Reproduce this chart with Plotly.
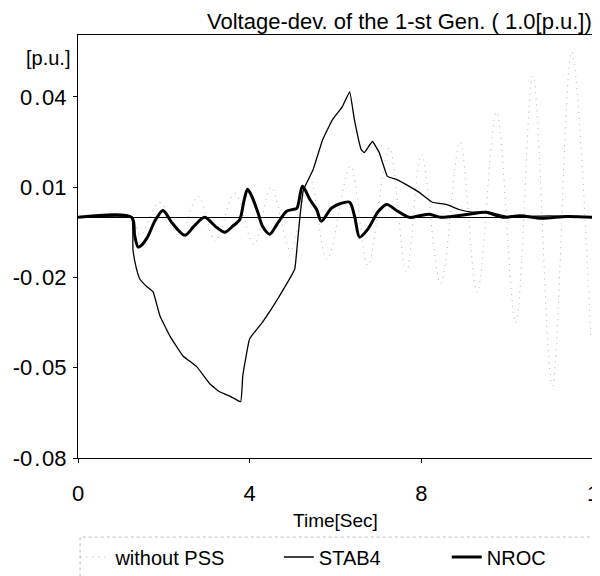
import plotly.graph_objects as go

# ---------------- data ----------------
stab4_t = [0, 1.25, 1.28, 1.36, 1.44, 1.6, 1.75, 1.91, 2.14, 2.44, 2.77, 3.07, 3.3, 3.55, 3.79,
           3.84, 4.0, 4.3, 4.7, 5.05, 5.1, 5.17, 5.25, 5.48, 5.7, 5.93, 6.16, 6.33, 6.44, 6.6,
           6.67, 6.86, 7.02, 7.21, 7.42, 7.72, 7.95, 8.26, 8.58, 8.88, 9.19, 9.58, 9.98, 10.5,
           11.0, 12.0]
stab4_v = [0, 0, -0.0106, -0.017, -0.0205, -0.023, -0.0248, -0.0328, -0.0394, -0.046, -0.0497,
           -0.0553, -0.058, -0.0595, -0.0613, -0.0526, -0.0404, -0.0348, -0.026, -0.0172,
           -0.0106, 0.0, 0.009, 0.0159, 0.0258, 0.0325, 0.0368, 0.0417, 0.0325, 0.0225,
           0.0215, 0.0252, 0.0215, 0.0136, 0.0126, 0.0103, 0.0083, 0.005, 0.0043, 0.0026,
           0.0017, 0.0017, 0.0003, 0.0003, 0.0005, 0.0]

nroc_t = [0, 1.25, 1.32, 1.4, 1.5, 1.63, 1.8, 1.98, 2.2, 2.49, 2.7, 2.95, 3.2, 3.42, 3.6, 3.77,
          3.86, 3.95, 4.05, 4.19, 4.3, 4.47, 4.65, 4.86, 5.0, 5.1, 5.23, 5.4, 5.56, 5.67, 5.9,
          6.1, 6.33, 6.45, 6.56, 6.75, 7.0, 7.19, 7.45, 7.72, 7.95, 8.19, 8.45, 8.7, 9.1, 9.5,
          9.9, 10.3, 10.8, 11.4, 12.0]
nroc_v = [0, 0, -0.006, -0.0099, -0.009, -0.0063, -0.001, 0.0023, -0.002, -0.006, -0.003, 0.0,
          -0.003, -0.005, -0.003, -0.0007, 0.005, 0.0093, 0.007, 0.0017, -0.003, -0.0056,
          -0.002, 0.002, 0.0026, 0.003, 0.0103, 0.006, 0.0026, -0.0013, 0.003, 0.0045, 0.005,
          0.0, -0.0066, -0.004, 0.002, 0.0043, 0.002, 0.0, 0.0005, 0.001, 0.0, 0.0003, 0.001,
          0.0017, 0.0, 0.0005, -0.0003, 0.0003, 0.0]

nopss_t = [0, 1.25, 1.45, 1.9, 2.35, 2.8, 3.2, 3.65, 4.1, 4.5, 4.95, 5.4, 5.8, 6.35, 6.75, 7.25,
           7.65, 8.0, 8.45, 8.9, 9.3, 9.75, 10.2, 10.6, 11.05, 11.5, 11.95]
nopss_v = [0, 0, -0.006, 0.005, -0.006, 0.007, -0.008, 0.008, -0.009, 0.010, -0.011, 0.013,
           -0.014, 0.017, -0.016, 0.023, -0.018, 0.021, -0.022, 0.025, -0.025, 0.035, -0.035,
           0.047, -0.056, 0.055, -0.04]

y_tickvals = [0.04, 0.01, -0.02, -0.05, -0.08]
y_ticktext = ["0\u200a.\u200a04", "0\u200a.\u200a01", "-0\u200a.\u200a02", "-0\u200a.\u200a05", "-0\u200a.\u200a08"]
x_tickvals = [0, 4, 8, 12]
x_ticktext = ["0", "4", "8", "1"]

FONT = "Liberation Sans, Arial, sans-serif"

fig = go.Figure()
fig.add_trace(go.Scatter(x=nopss_t, y=nopss_v, mode="lines", name="without PSS", legend="legend",
                         line=dict(color="rgba(120,120,120,0.6)", width=1, dash="1px,5px",
                                   shape="spline", smoothing=1.0)))
fig.add_trace(go.Scatter(x=stab4_t, y=stab4_v, mode="lines", name="STAB4", legend="legend2",
                         line=dict(color="black", width=1.3, shape="spline", smoothing=0.3)))
fig.add_trace(go.Scatter(x=nroc_t, y=nroc_v, mode="lines", name="NROC", legend="legend3",
                         line=dict(color="black", width=3, shape="spline", smoothing=0.8)))

leg_common = dict(orientation="h", y=-0.234, yanchor="middle", xanchor="left",
                  font=dict(size=20, family=FONT), bgcolor="rgba(0,0,0,0)", itemwidth=30)

fig.update_layout(
    width=592, height=568,
    margin=dict(l=70, r=7, t=27, b=118, autoexpand=False),
    paper_bgcolor="white", plot_bgcolor="white",
    font=dict(family=FONT, color="black"),
    showlegend=True,
    legend=dict(x=-0.005, **leg_common),
    legend2=dict(x=0.39, **leg_common),
    legend3=dict(x=0.716, **leg_common),
    xaxis=dict(range=[0, 12], tickvals=x_tickvals, ticktext=x_ticktext,
               showgrid=False, zeroline=False, showline=True, linecolor="black", linewidth=1,
               mirror=True, ticks="outside", ticklen=4, tickcolor="black",
               tickfont=dict(size=22, family=FONT), ticklabelstandoff=12,
               title=dict(text="Time[Sec]", font=dict(size=19, family=FONT), standoff=8)),
    yaxis=dict(range=[-0.08, 0.0606], tickvals=y_tickvals, ticktext=y_ticktext,
               showgrid=False, zeroline=True, zerolinecolor="black", zerolinewidth=1,
               showline=True, linecolor="black", linewidth=1, mirror=True,
               ticks="outside", ticklen=4, tickcolor="black",
               tickfont=dict(size=22, family=FONT), ticklabelstandoff=2),
    annotations=[
        dict(text="Voltage-dev. of the 1-st Gen. ( 1.0[p.u.])", xref="paper", yref="paper",
             x=1.0, y=1.0, xanchor="right", yanchor="middle", yshift=14, showarrow=False,
             borderpad=0, font=dict(size=22, family=FONT)),
        dict(text="[p.u.]", xref="paper", yref="paper", x=-0.012, y=0.946,
             xanchor="right", yanchor="middle", showarrow=False,
             font=dict(size=20, family=FONT)),
    ],
    shapes=[
        dict(type="rect", xref="paper", yref="paper", x0=0.004, x1=1.0, y0=-0.30, y1=-0.187,
             line=dict(color="rgba(140,140,140,0.6)", width=1, dash="dot"),
             fillcolor="rgba(0,0,0,0)"),
    ],
)

fig.write_html("out.html")
